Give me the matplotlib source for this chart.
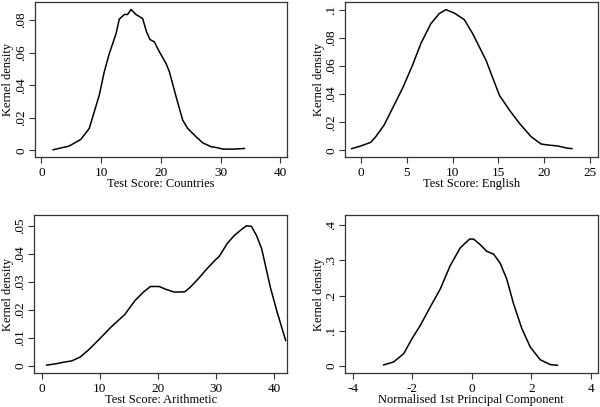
import matplotlib
matplotlib.use("Agg")
import matplotlib.pyplot as plt

plt.rcParams["font.family"] = ["Liberation Serif", "DejaVu Serif"]
plt.rcParams["axes.unicode_minus"] = False

# Test Score: Countries
countries_x = [1.96, 4.64, 6.6, 8.0, 8.84, 9.68, 10.5, 11.36, 12.5, 13.03, 13.87, 14.43, 15.0,
               15.83, 16.95, 17.6, 18.18, 18.9, 19.75, 20.87, 21.43, 22.55, 23.66, 24.5,
               25.9, 27.0, 28.4, 29.26, 30.4, 32.06, 34.0]
countries_y = [0.0004, 0.0027, 0.0068, 0.0135, 0.0237, 0.034, 0.048, 0.0595, 0.0718, 0.0806,
               0.0835, 0.0835, 0.0866, 0.0835, 0.081, 0.0728, 0.0681, 0.0667, 0.0606, 0.0534,
               0.0483, 0.033, 0.0186, 0.0135, 0.0084, 0.0047, 0.0023, 0.0018, 0.0008, 0.0008,
               0.0012]

# Test Score: English
english_x = [-0.98, 0.0, 1.09, 1.64, 2.55, 3.46, 4.55, 5.64, 6.55, 7.64, 8.55, 9.28, 10.19,
             11.28, 12.19, 13.65, 15.1, 16.2, 17.3, 18.56, 19.65, 20.38, 21.47, 22.38, 23.0]
english_y = [0.0012, 0.0031, 0.0057, 0.0097, 0.018, 0.0298, 0.044, 0.0605, 0.0759, 0.090,
             0.0972, 0.100, 0.0976, 0.0929, 0.083, 0.064, 0.0392, 0.0286, 0.0191, 0.0097,
             0.0045, 0.0038, 0.0031, 0.0017, 0.0012]

# Test Score: Arithmetic
arith_x = [0.88, 2.53, 3.7, 5.18, 6.65, 8.1, 9.6, 11.94, 14.3, 16.06, 17.5, 18.7, 20.2, 21.35,
           22.8, 24.6, 25.47, 26.94, 28.4, 29.9, 30.5, 31.94, 33.1, 34.3, 35.2, 36.06, 36.94,
           37.82, 39.3, 40.47, 41.94]
arith_y = [0.0002, 0.0007, 0.0012, 0.0017, 0.0031, 0.0057, 0.0088, 0.0138, 0.0183, 0.0233,
           0.0263, 0.0283, 0.0283, 0.0273, 0.0263, 0.0264, 0.0279, 0.0311, 0.0346, 0.0379,
           0.0390, 0.0438, 0.0465, 0.0486, 0.050, 0.0498, 0.0465, 0.0418, 0.0281, 0.0192,
           0.009]

# Normalised 1st Principal Component
pc_x = [-2.96, -2.63, -2.29, -2.01, -1.73, -1.40, -1.06, -0.73, -0.39, -0.08, 0.06, 0.28, 0.50,
        0.73, 0.95, 1.17, 1.40, 1.68, 1.96, 2.29, 2.63, 2.87]
pc_y = [0.002, 0.0104, 0.034, 0.077, 0.115, 0.167, 0.219, 0.285, 0.336, 0.361, 0.361, 0.345,
        0.326, 0.318, 0.292, 0.247, 0.176, 0.105, 0.053, 0.017, 0.003, 0.001]

panels = [
    dict(x=countries_x, y=countries_y, xlabel="Test Score: Countries",
         xticks=[0, 10, 20, 30, 40], yticks=[0, 0.02, 0.04, 0.06, 0.08],
         yticklabels=["0", ".02", ".04", ".06", ".08"],
         xlim=(-1.12, 41.1), ylim=(-0.0041, 0.0914),
         rect=[0.058, 0.614, 0.42, 0.382]),
    dict(x=english_x, y=english_y, xlabel="Test Score: English",
         xticks=[0, 5, 10, 15, 20, 25], yticks=[0, 0.02, 0.04, 0.06, 0.08, 0.1],
         yticklabels=["0", ".02", ".04", ".06", ".08", ".1"],
         xlim=(-1.71, 25.8), ylim=(-0.0048, 0.1057),
         rect=[0.575, 0.614, 0.421, 0.382]),
    dict(x=arith_x, y=arith_y, xlabel="Test Score: Arithmetic",
         xticks=[0, 10, 20, 30, 40], yticks=[0, 0.01, 0.02, 0.03, 0.04, 0.05],
         yticklabels=["0", ".01", ".02", ".03", ".04", ".05"],
         xlim=(-1.27, 42.24), ylim=(-0.0027, 0.0539),
         rect=[0.057, 0.083, 0.422, 0.389]),
    dict(x=pc_x, y=pc_y, xlabel="Normalised 1st Principal Component",
         xticks=[-4, -2, 0, 2, 4], yticks=[0, 0.1, 0.2, 0.3, 0.4],
         yticklabels=["0", ".1", ".2", ".3", ".4"],
         xlim=(-4.26, 4.22), ylim=(-0.0217, 0.430),
         rect=[0.575, 0.083, 0.421, 0.389]),
]

fig = plt.figure(figsize=(6.0, 4.07), dpi=100)
for p in panels:
    ax = fig.add_axes(p["rect"])
    ax.plot(p["x"], p["y"], color="black", lw=1.1)
    ax.set_xlim(*p["xlim"])
    ax.set_ylim(*p["ylim"])
    ax.set_xticks(p["xticks"])
    ax.set_yticks(p["yticks"])
    ax.set_yticklabels(p["yticklabels"], rotation=90, va="center")
    ax.tick_params(direction="out", length=4, width=0.8, color="#333333",
                   labelsize=9.5)
    ax.tick_params(axis="x", pad=3)
    ax.tick_params(axis="y", pad=1.5)
    for s in ax.spines.values():
        s.set_color("#333333")
        s.set_linewidth(0.9)
    ax.set_xlabel(p["xlabel"], fontsize=9, labelpad=-0.5)
    ax.set_ylabel("Kernel density", fontsize=9, labelpad=0.5)

fig.savefig("out.png", dpi=100)
